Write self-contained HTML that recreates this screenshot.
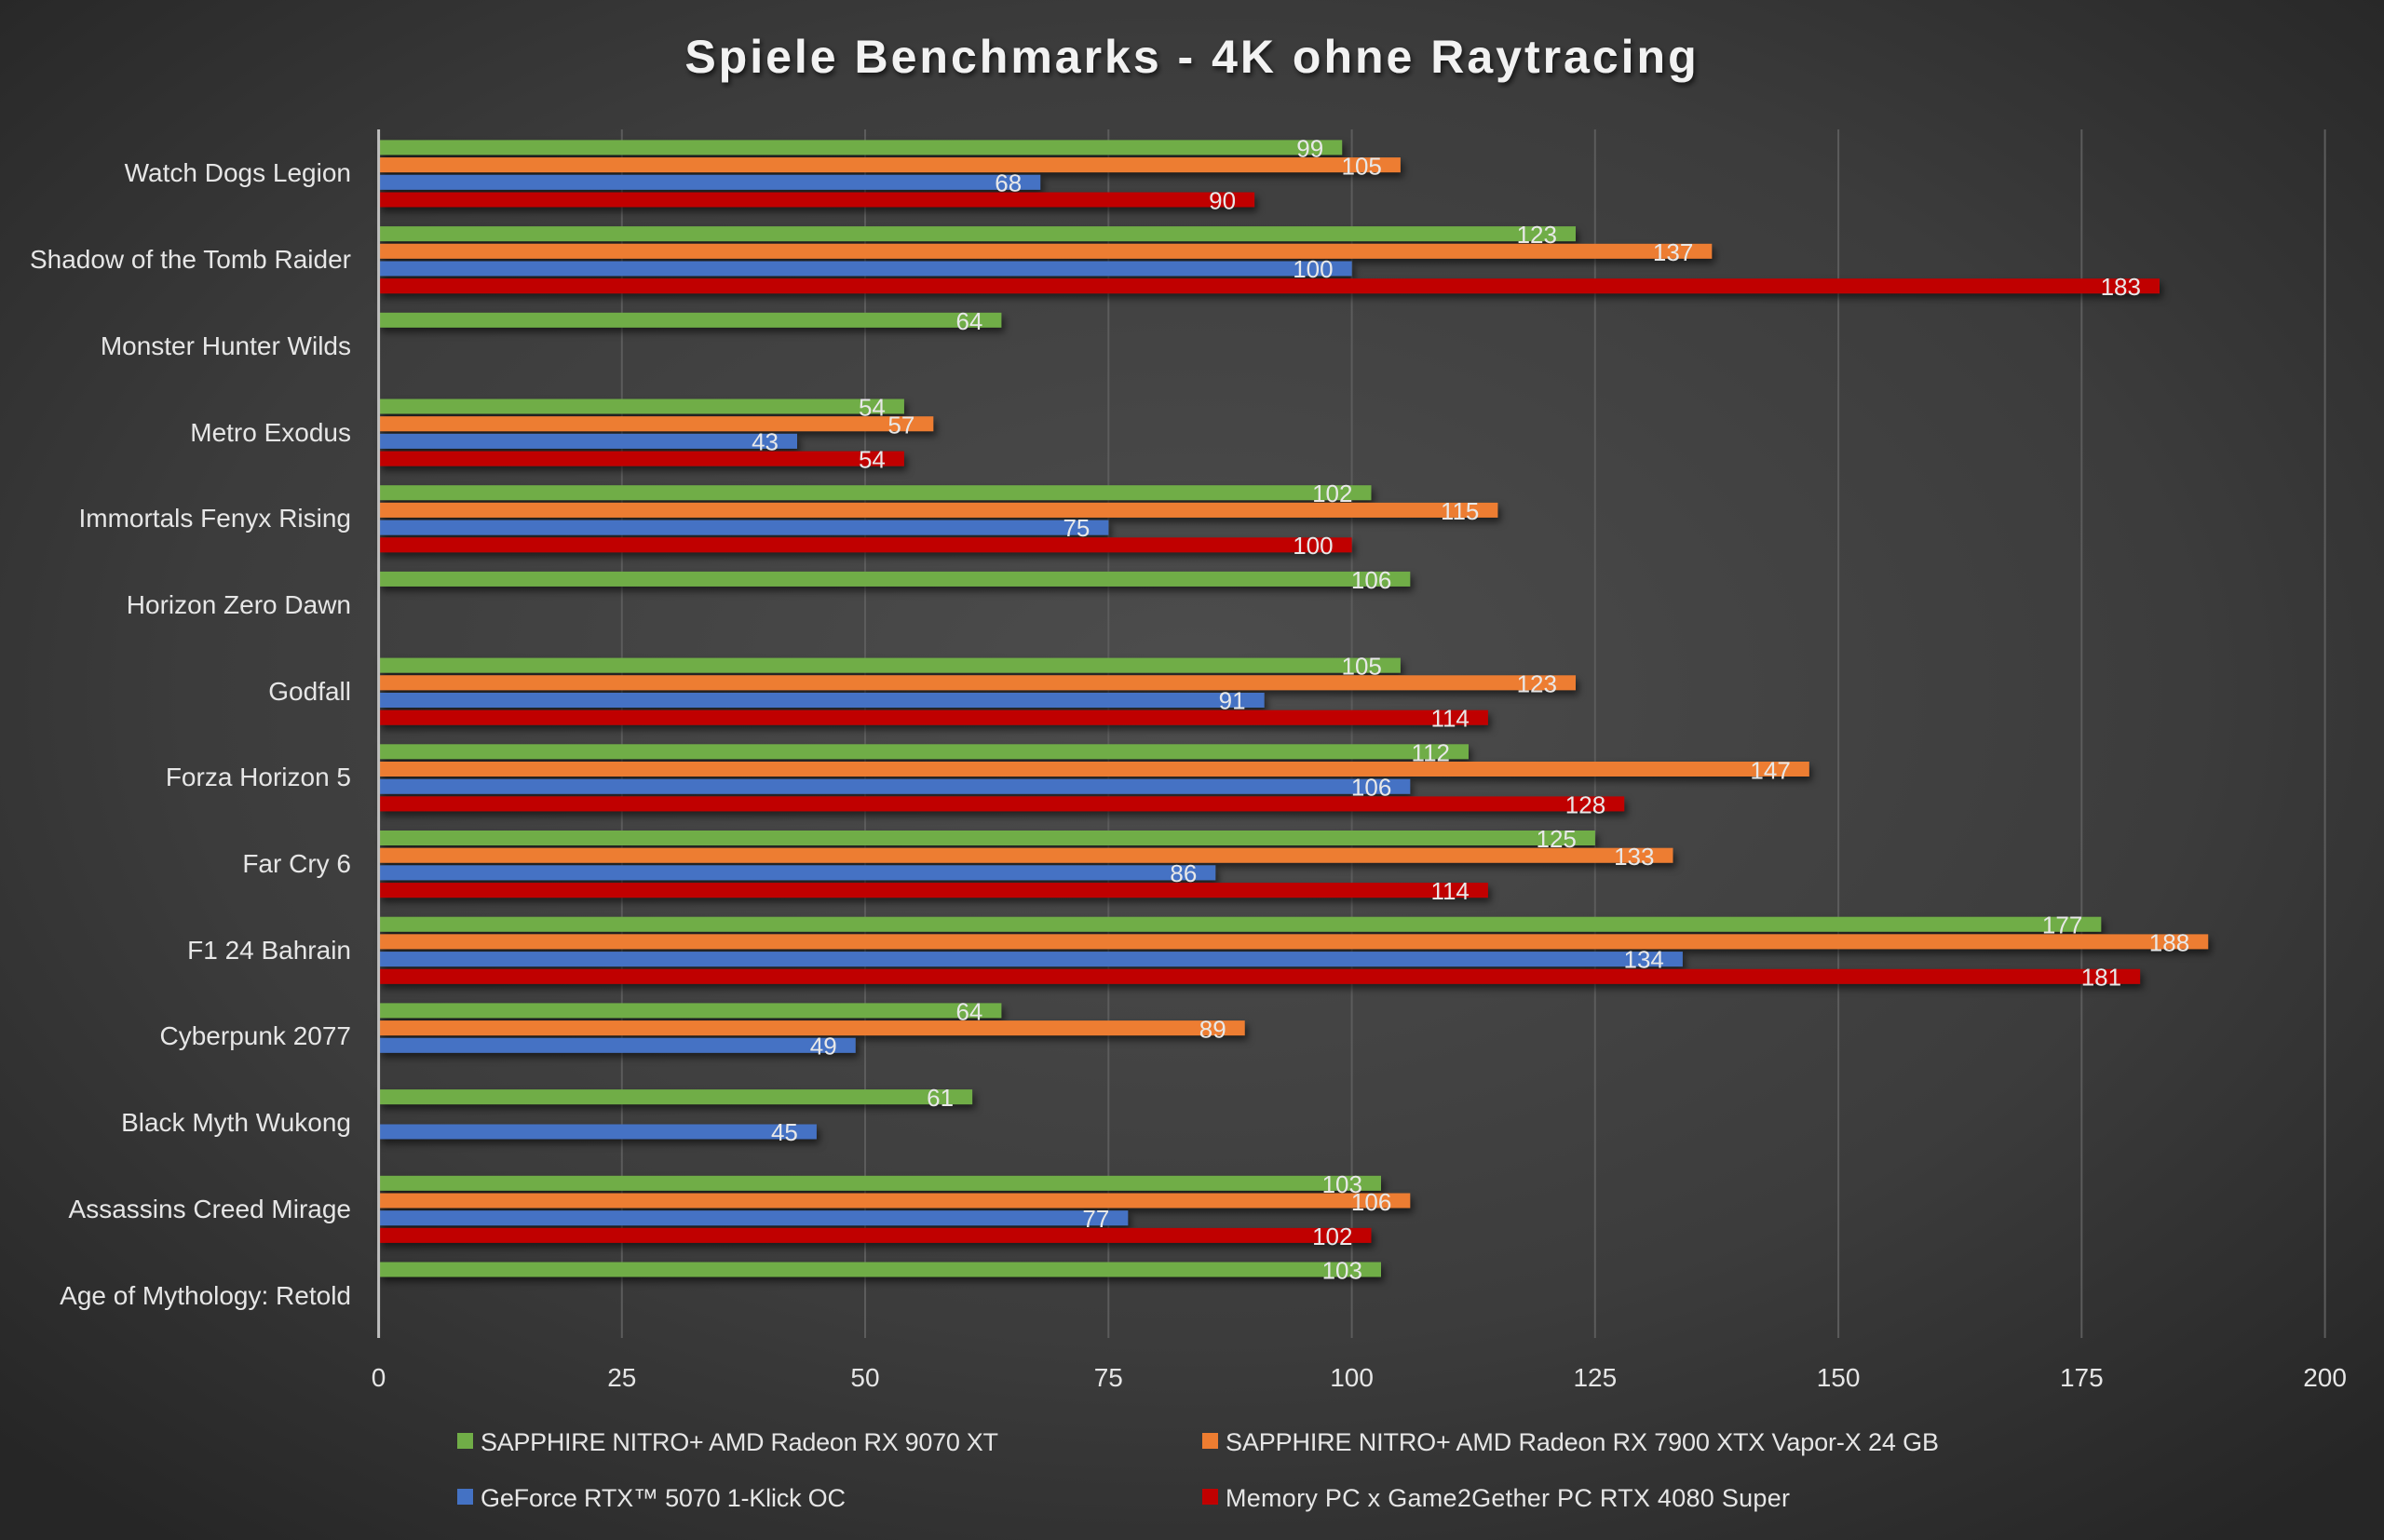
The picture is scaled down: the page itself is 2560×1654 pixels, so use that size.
<!DOCTYPE html>
<html><head><meta charset="utf-8"><style>
html,body{margin:0;padding:0;width:2560px;height:1654px;overflow:hidden;background:#333;}
svg{display:block}
.cat{font-family:"Liberation Sans",sans-serif;font-size:28px;fill:#e6e6e6;text-anchor:end}
.v{font-family:"Liberation Sans",sans-serif;font-size:26px;fill:#e8e8e8;text-anchor:end}
.t{font-family:"Liberation Sans",sans-serif;font-size:28px;fill:#e6e6e6;text-anchor:middle}
.lg{font-family:"Liberation Sans",sans-serif;font-size:27px;fill:#e6e6e6}
</style></head><body>
<svg width="2560" height="1654" viewBox="0 0 2560 1654" xmlns="http://www.w3.org/2000/svg">
<defs>
<radialGradient id="bg" cx="50%" cy="45%" r="70%">
<stop offset="0" stop-color="#4d4d4d"/><stop offset="0.6" stop-color="#3c3c3c"/><stop offset="1" stop-color="#262626"/>
</radialGradient>
<filter id="sh" x="-5%" y="-50%" width="110%" height="200%"><feDropShadow dx="3" dy="5" stdDeviation="4" flood-color="#000" flood-opacity="0.55"/></filter>
<filter id="tsh"><feDropShadow dx="2" dy="3" stdDeviation="3" flood-color="#000" flood-opacity="0.7"/></filter>
</defs>
<rect width="2560" height="1654" fill="url(#bg)"/>
<text x="1280" y="78" text-anchor="middle" font-family="Liberation Sans, sans-serif" font-weight="bold" font-size="50" letter-spacing="3" fill="#f2f2f2" filter="url(#tsh)">Spiele Benchmarks - 4K ohne Raytracing</text>
<g stroke="#5c5c5c" stroke-width="2">
<line x1="667.8" y1="139" x2="667.8" y2="1437"/><line x1="929" y1="139" x2="929" y2="1437"/><line x1="1190.3" y1="139" x2="1190.3" y2="1437"/><line x1="1451.6" y1="139" x2="1451.6" y2="1437"/><line x1="1712.8" y1="139" x2="1712.8" y2="1437"/><line x1="1974.1" y1="139" x2="1974.1" y2="1437"/><line x1="2235.3" y1="139" x2="2235.3" y2="1437"/><line x1="2496.6" y1="139" x2="2496.6" y2="1437"/>
</g>
<g>
<text class="t" x="406.6" y="1489">0</text><text class="t" x="667.8" y="1489">25</text><text class="t" x="929" y="1489">50</text><text class="t" x="1190.3" y="1489">75</text><text class="t" x="1451.6" y="1489">100</text><text class="t" x="1712.8" y="1489">125</text><text class="t" x="1974.1" y="1489">150</text><text class="t" x="2235.3" y="1489">175</text><text class="t" x="2496.6" y="1489">200</text>
</g>
<g>
<text class="cat" x="377" y="195">Watch Dogs Legion</text>
<text class="cat" x="377" y="288">Shadow of the Tomb Raider</text>
<text class="cat" x="377" y="381">Monster Hunter Wilds</text>
<text class="cat" x="377" y="474">Metro Exodus</text>
<text class="cat" x="377" y="566">Immortals Fenyx Rising</text>
<text class="cat" x="377" y="659">Horizon Zero Dawn</text>
<text class="cat" x="377" y="752">Godfall</text>
<text class="cat" x="377" y="844">Forza Horizon 5</text>
<text class="cat" x="377" y="937">Far Cry 6</text>
<text class="cat" x="377" y="1030">F1 24 Bahrain</text>
<text class="cat" x="377" y="1122">Cyberpunk 2077</text>
<text class="cat" x="377" y="1215">Black Myth Wukong</text>
<text class="cat" x="377" y="1308">Assassins Creed Mirage</text>
<text class="cat" x="377" y="1401">Age of Mythology: Retold</text>
</g>
<g filter="url(#sh)">
<g transform="translate(406.6,185.4)">
<rect y="-35" width="1034.6" height="16" fill="#70AD47"/><rect y="-16.3" width="1097.3" height="16" fill="#ED7D31"/><rect y="2.4" width="710.6" height="16" fill="#4472C4"/><rect y="21.1" width="940.5" height="16" fill="#C00000"/></g>
<g transform="translate(406.6,278.1)">
<rect y="-35" width="1285.4" height="16" fill="#70AD47"/><rect y="-16.3" width="1431.7" height="16" fill="#ED7D31"/><rect y="2.4" width="1045" height="16" fill="#4472C4"/><rect y="21.1" width="1912.4" height="16" fill="#C00000"/></g>
<g transform="translate(406.6,370.8)">
<rect y="-35" width="668.8" height="16" fill="#70AD47"/></g>
<g transform="translate(406.6,463.5)">
<rect y="-35" width="564.3" height="16" fill="#70AD47"/><rect y="-16.3" width="595.7" height="16" fill="#ED7D31"/><rect y="2.4" width="449.4" height="16" fill="#4472C4"/><rect y="21.1" width="564.3" height="16" fill="#C00000"/></g>
<g transform="translate(406.6,556.2)">
<rect y="-35" width="1065.9" height="16" fill="#70AD47"/><rect y="-16.3" width="1201.8" height="16" fill="#ED7D31"/><rect y="2.4" width="783.8" height="16" fill="#4472C4"/><rect y="21.1" width="1045" height="16" fill="#C00000"/></g>
<g transform="translate(406.6,648.9)">
<rect y="-35" width="1107.7" height="16" fill="#70AD47"/></g>
<g transform="translate(406.6,741.6)">
<rect y="-35" width="1097.3" height="16" fill="#70AD47"/><rect y="-16.3" width="1285.4" height="16" fill="#ED7D31"/><rect y="2.4" width="951" height="16" fill="#4472C4"/><rect y="21.1" width="1191.3" height="16" fill="#C00000"/></g>
<g transform="translate(406.6,834.3)">
<rect y="-35" width="1170.4" height="16" fill="#70AD47"/><rect y="-16.3" width="1536.2" height="16" fill="#ED7D31"/><rect y="2.4" width="1107.7" height="16" fill="#4472C4"/><rect y="21.1" width="1337.6" height="16" fill="#C00000"/></g>
<g transform="translate(406.6,927)">
<rect y="-35" width="1306.3" height="16" fill="#70AD47"/><rect y="-16.3" width="1389.9" height="16" fill="#ED7D31"/><rect y="2.4" width="898.7" height="16" fill="#4472C4"/><rect y="21.1" width="1191.3" height="16" fill="#C00000"/></g>
<g transform="translate(406.6,1019.7)">
<rect y="-35" width="1849.7" height="16" fill="#70AD47"/><rect y="-16.3" width="1964.6" height="16" fill="#ED7D31"/><rect y="2.4" width="1400.3" height="16" fill="#4472C4"/><rect y="21.1" width="1891.5" height="16" fill="#C00000"/></g>
<g transform="translate(406.6,1112.4)">
<rect y="-35" width="668.8" height="16" fill="#70AD47"/><rect y="-16.3" width="930.1" height="16" fill="#ED7D31"/><rect y="2.4" width="512.1" height="16" fill="#4472C4"/></g>
<g transform="translate(406.6,1205.1)">
<rect y="-35" width="637.5" height="16" fill="#70AD47"/><rect y="2.4" width="470.3" height="16" fill="#4472C4"/></g>
<g transform="translate(406.6,1297.8)">
<rect y="-35" width="1076.4" height="16" fill="#70AD47"/><rect y="-16.3" width="1107.7" height="16" fill="#ED7D31"/><rect y="2.4" width="804.7" height="16" fill="#4472C4"/><rect y="21.1" width="1065.9" height="16" fill="#C00000"/></g>
<g transform="translate(406.6,1390.5)">
<rect y="-35" width="1076.4" height="16" fill="#70AD47"/></g>
</g>
<line x1="406.6" y1="139" x2="406.6" y2="1437" stroke="#bfbfbf" stroke-width="3"/>
<g>
<g transform="translate(386.6,185.4)"><text class="v" x="1034.6" y="-17">99</text><text class="v" x="1097.3" y="2">105</text><text class="v" x="710.6" y="20">68</text><text class="v" x="940.5" y="39">90</text></g>
<g transform="translate(386.6,278.1)"><text class="v" x="1285.4" y="-17">123</text><text class="v" x="1431.7" y="2">137</text><text class="v" x="1045" y="20">100</text><text class="v" x="1912.4" y="39">183</text></g>
<g transform="translate(386.6,370.8)"><text class="v" x="668.8" y="-17">64</text></g>
<g transform="translate(386.6,463.5)"><text class="v" x="564.3" y="-17">54</text><text class="v" x="595.7" y="2">57</text><text class="v" x="449.4" y="20">43</text><text class="v" x="564.3" y="39">54</text></g>
<g transform="translate(386.6,556.2)"><text class="v" x="1065.9" y="-17">102</text><text class="v" x="1201.8" y="2">115</text><text class="v" x="783.8" y="20">75</text><text class="v" x="1045" y="39">100</text></g>
<g transform="translate(386.6,648.9)"><text class="v" x="1107.7" y="-17">106</text></g>
<g transform="translate(386.6,741.6)"><text class="v" x="1097.3" y="-17">105</text><text class="v" x="1285.4" y="2">123</text><text class="v" x="951" y="20">91</text><text class="v" x="1191.3" y="39">114</text></g>
<g transform="translate(386.6,834.3)"><text class="v" x="1170.4" y="-17">112</text><text class="v" x="1536.2" y="2">147</text><text class="v" x="1107.7" y="20">106</text><text class="v" x="1337.6" y="39">128</text></g>
<g transform="translate(386.6,927)"><text class="v" x="1306.3" y="-17">125</text><text class="v" x="1389.9" y="2">133</text><text class="v" x="898.7" y="20">86</text><text class="v" x="1191.3" y="39">114</text></g>
<g transform="translate(386.6,1019.7)"><text class="v" x="1849.7" y="-17">177</text><text class="v" x="1964.6" y="2">188</text><text class="v" x="1400.3" y="20">134</text><text class="v" x="1891.5" y="39">181</text></g>
<g transform="translate(386.6,1112.4)"><text class="v" x="668.8" y="-17">64</text><text class="v" x="930.1" y="2">89</text><text class="v" x="512.1" y="20">49</text></g>
<g transform="translate(386.6,1205.1)"><text class="v" x="637.5" y="-17">61</text><text class="v" x="470.3" y="20">45</text></g>
<g transform="translate(386.6,1297.8)"><text class="v" x="1076.4" y="-17">103</text><text class="v" x="1107.7" y="2">106</text><text class="v" x="804.7" y="20">77</text><text class="v" x="1065.9" y="39">102</text></g>
<g transform="translate(386.6,1390.5)"><text class="v" x="1076.4" y="-17">103</text></g>
</g>
<rect x="491" y="1539" width="17" height="17" fill="#70AD47"/><text class="lg" x="516" y="1558" textLength="556">SAPPHIRE NITRO+ AMD Radeon RX 9070 XT</text>
<rect x="1291" y="1539" width="17" height="17" fill="#ED7D31"/><text class="lg" x="1316" y="1558" textLength="766">SAPPHIRE NITRO+ AMD Radeon RX 7900 XTX Vapor-X 24 GB</text>
<rect x="491" y="1599" width="17" height="17" fill="#4472C4"/><text class="lg" x="516" y="1618" textLength="392">GeForce RTX™ 5070 1-Klick OC</text>
<rect x="1291" y="1599" width="17" height="17" fill="#C00000"/><text class="lg" x="1316" y="1618" textLength="606">Memory PC x Game2Gether PC RTX 4080 Super</text>
</svg>
</body></html>
